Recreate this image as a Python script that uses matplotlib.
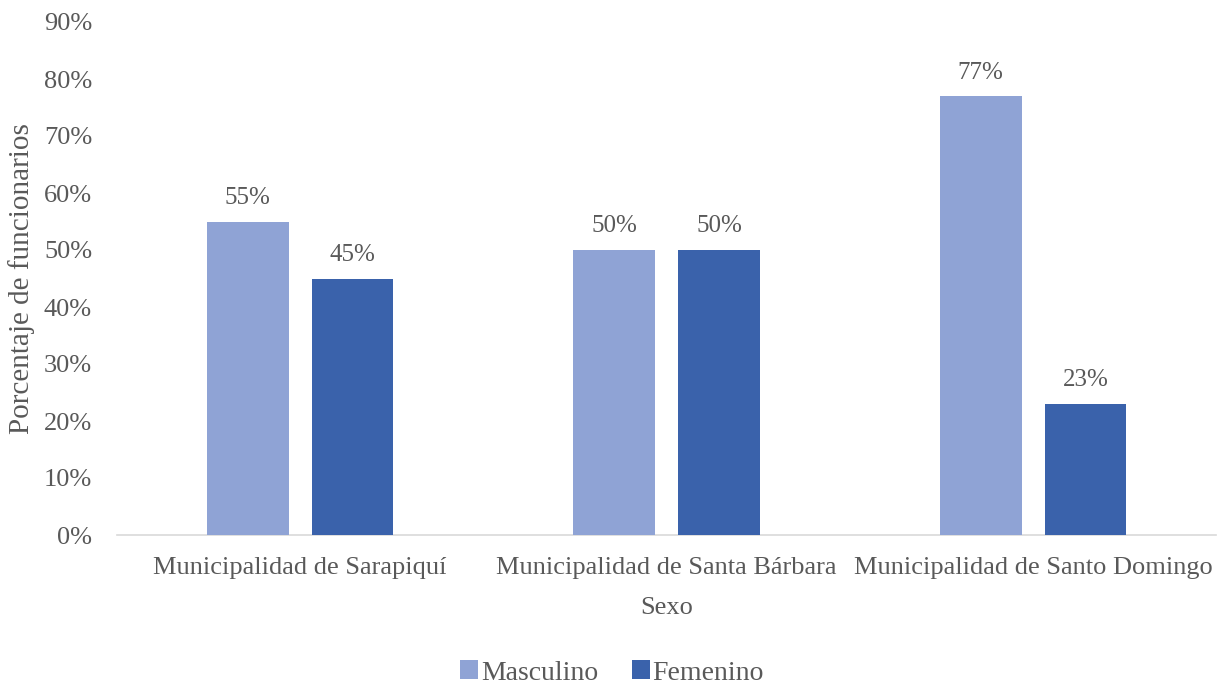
import matplotlib
matplotlib.use("Agg")
import matplotlib.pyplot as plt
import numpy as np

categories = ["Municipalidad de Sarapiquí", "Municipalidad de Santa Bárbara", "Municipalidad de Santo Domingo"]
masculino = [0.55, 0.50, 0.77]
femenino = [0.45, 0.50, 0.23]
series_names = ["Masculino", "Femenino"]
yticks = [0, 0.1, 0.2, 0.3, 0.4, 0.5, 0.6, 0.7, 0.8, 0.9]

plt.rcParams['font.family'] = ['Liberation Serif', 'DejaVu Serif']
txt = '#595959'

fig = plt.figure(figsize=(12.17, 6.85), dpi=100)
ax = fig.add_axes([117/1217, 1-535/685, 1-117/1217 - 0.0005, (535-22)/685])

x = np.arange(len(categories))
w = 0.223
off = 0.143
c1 = '#8FA3D5'
c2 = '#3A62AB'
b1 = ax.bar(x - off, masculino, w, color=c1, label=series_names[0], zorder=3)
b2 = ax.bar(x + off, femenino, w, color=c2, label=series_names[1], zorder=3)
for bars, vals in ((b1, masculino), (b2, femenino)):
    for r, v in zip(bars, vals):
        ax.text(r.get_x() + r.get_width()/2, v + 0.022, f"{round(v*100)}%",
                ha='center', va='bottom', fontsize=18, color=txt)

ax.set_xlim(-0.5, 2.5)
ax.set_ylim(0, 0.9)
ax.set_yticks(yticks)
ax.set_yticklabels([f"{int(round(t*100))}%" for t in yticks])
ax.set_xticks(x)
ax.set_xticklabels(categories)
ax.tick_params(axis='both', length=0, labelsize=19, labelcolor=txt)
ax.tick_params(axis='y', pad=18)
ax.tick_params(axis='x', pad=16)
for s in ['top', 'right', 'left']:
    ax.spines[s].set_visible(False)
ax.spines['bottom'].set_color('#D9D9D9')
ax.spines['bottom'].set_linewidth(1.2)

ax.set_ylabel("Porcentaje de funcionarios", fontsize=21, color=txt, labelpad=6)
ax.set_xlabel("Sexo", fontsize=19, color=txt, labelpad=13)

fig.legend(handles=[b1, b2], labels=series_names, loc='center', bbox_to_anchor=(612/1217, 1-673/685),
           ncol=2, frameon=False, fontsize=20, labelcolor=txt, handlelength=0.65, handleheight=0.65,
           handletextpad=0.1, columnspacing=1.2, borderpad=0.1)

fig.savefig("out.png", dpi=100)
